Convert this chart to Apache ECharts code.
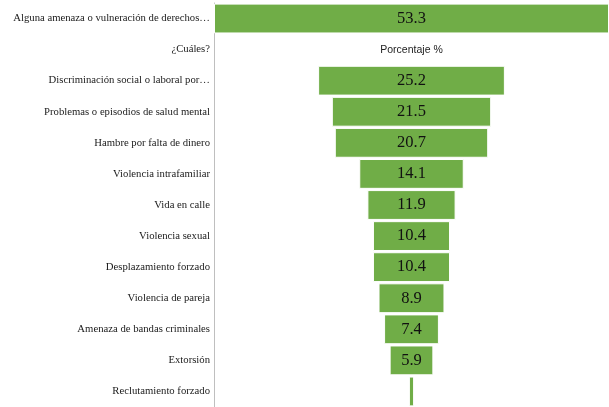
<!DOCTYPE html>
<html>
<head>
<meta charset="utf-8">
<script src="https://cdn.jsdelivr.net/npm/echarts@6/dist/echarts.min.js"></script>
<style>
  html, body { margin: 0; padding: 0; background: #fff; }
  #chart { width: 609px; height: 407px; }
</style>
</head>
<body>
<div id="chart"></div>
<script>
const categories = [
  'Alguna amenaza o vulneración de derechos…',
  '¿Cuáles?',
  'Discriminación social o laboral por…',
  'Problemas o episodios de salud mental',
  'Hambre por falta de dinero',
  'Violencia intrafamiliar',
  'Vida en calle',
  'Violencia sexual',
  'Desplazamiento forzado',
  'Violencia de pareja',
  'Amenaza de bandas criminales',
  'Extorsión',
  'Reclutamiento forzado'
];
const values = [53.3, null, 25.2, 21.5, 20.7, 14.1, 11.9, 10.4, 10.4, 8.9, 7.4, 5.9, 0.7];
const subTitle = 'Porcentaje %';

const maxVal = 53.3;
// invisible offset so each bar is centred like a funnel
const offsets = values.map(v => v == null ? null : (maxVal - v) / 2);

const chart = echarts.init(document.getElementById('chart'));

const option = {
  animation: false,
  grid: { left: 214, right: 0, top: 3, bottom: 0, containLabel: false, outerBoundsMode: 'none' },
  xAxis: {
    type: 'value', min: 0, max: maxVal, show: false
  },
  yAxis: {
    type: 'category',
    data: categories,
    inverse: true,
    axisLine: { lineStyle: { color: '#bfbfbf' } },
    axisTick: { lineStyle: { color: '#bfbfbf' }, length: 3 },
    axisLabel: {
      fontFamily: 'Liberation Serif', fontSize: 10.7, color: '#1a1a1a', margin: 4
    }
  },
  series: [
    {
      type: 'bar', stack: 'f', data: offsets,
      itemStyle: { color: 'transparent' },
      barCategoryGap: '4%',
      silent: true
    },
    {
      type: 'bar', stack: 'f', data: values,
      itemStyle: { color: '#70ad47', borderColor: '#fff', borderWidth: 1 },
      label: {
        show: true, position: 'inside',
        fontFamily: 'Liberation Serif', fontSize: 16.5, color: '#111',
        formatter: p => (p.value >= 1 ? p.value.toFixed(1) : '')
      }
    }
  ]
};
chart.setOption(option);

const pos = chart.convertToPixel({ xAxisIndex: 0, yAxisIndex: 0 }, [maxVal / 2, 1]);
chart.setOption({
  graphic: [{
    type: 'text', x: pos[0], y: pos[1],
    style: {
      text: subTitle, fontFamily: 'Liberation Sans', fontSize: 10.5, fill: '#222',
      align: 'center', verticalAlign: 'middle'
    }
  }]
});
</script>
</body>
</html>
